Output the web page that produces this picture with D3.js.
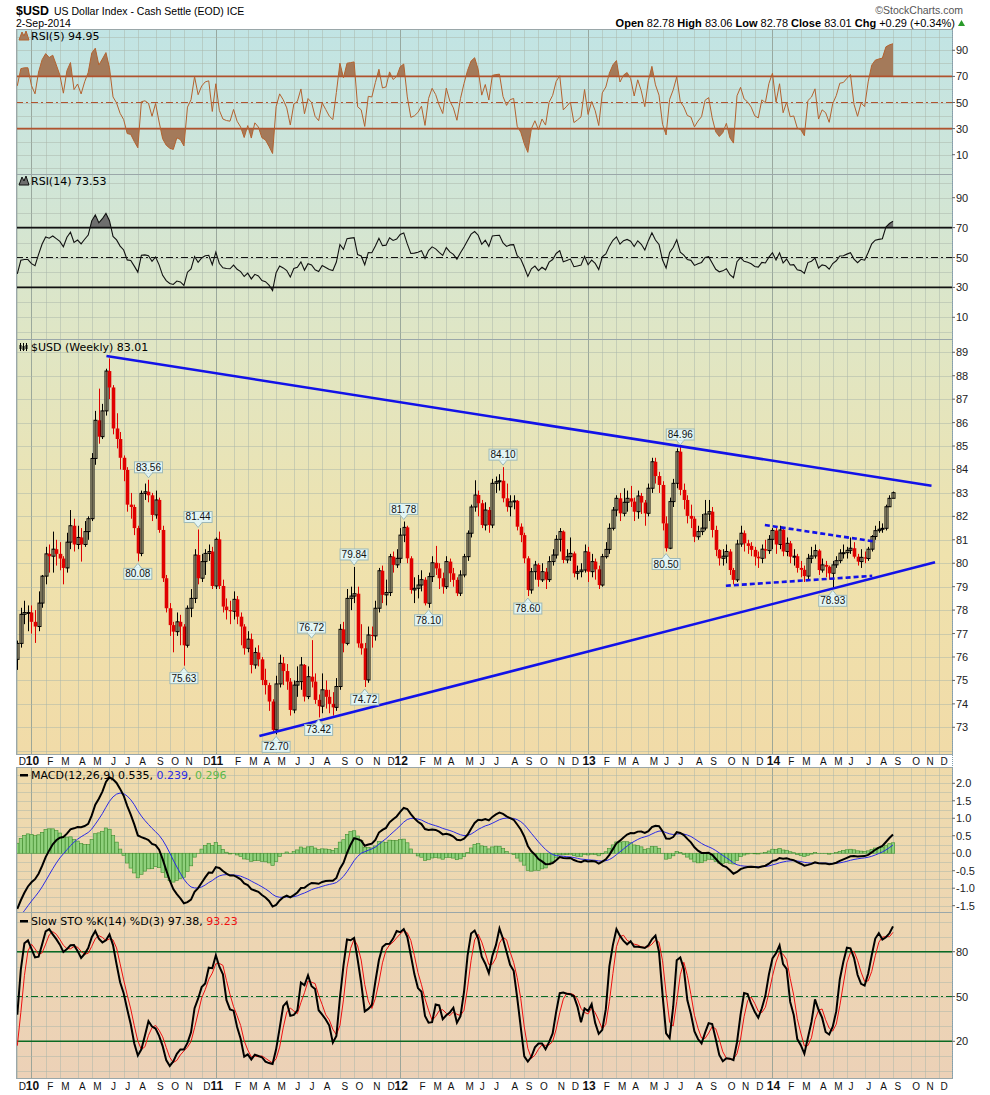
<!DOCTYPE html>
<html>
<head>
<meta charset="utf-8">
<script src="https://cdn.jsdelivr.net/npm/d3@7"></script>
<style>
  body { margin: 0; background: #fff; }
  svg text { font-family: "Liberation Sans", Arial, sans-serif; }
  .ttl { font-family: "DejaVu Sans", sans-serif; font-size: 11px; }
</style>
</head>
<body>
<svg id="chart" width="990" height="1095"></svg>
<script>
// weekly closes before the visible window, only used to warm up the indicators
const priorCloses = [85.3, 85.6, 85.7, 84.5, 84.0, 82.6, 82.9, 80.6, 79.3, 80.6, 80.3, 80.2, 80.0,
  80.2, 80.3, 79.5, 78.9, 78.4, 78.9, 78.8, 78.3, 78.4, 77.9, 76.7, 76.5, 77.0, 77.0, 76.3, 75.6,
  75.5, 76.2, 75.7, 75.4, 75.5, 74.9, 75.9];

// $USD weekly, week of 7-Dec-2009 .. week of 1-Sep-2014
const closes = [
  76.58, 77.82, 77.90, 77.90, 77.50, 77.30, 78.30, 79.45, 80.40, 80.30,
  80.60, 80.40, 80.20, 79.80, 80.90, 81.60, 80.80, 81.10, 80.80, 81.35,
  81.90, 84.47, 86.10, 85.40, 86.50, 88.20, 87.50, 85.75, 85.30, 84.50,
  83.98, 82.50, 82.40, 81.50, 80.42, 82.98, 83.05, 82.90, 82.06, 82.70,
  81.42, 79.36, 78.08, 77.36, 77.08, 77.50, 77.30, 76.50, 78.08, 78.50,
  80.35, 79.36, 80.07, 80.42, 80.50, 79.03, 81.02, 79.03, 78.15, 78.00,
  77.95, 78.46, 77.72, 77.30, 76.37, 76.76, 75.66, 76.19, 75.90, 75.02,
  74.80, 74.10, 72.89, 74.85, 75.73, 75.40, 74.95, 73.74, 74.80, 74.95,
  75.66, 74.31, 75.16, 74.95, 74.17, 73.90, 74.60, 74.30, 74.00, 73.85,
  74.74, 77.18, 76.58, 78.50, 78.60, 78.70, 76.58, 76.37, 75.02, 76.94,
  76.90, 78.08, 79.68, 78.65, 78.75, 80.28, 79.93, 80.21, 81.20, 81.53,
  80.21, 78.86, 78.93, 79.07, 79.30, 78.29, 79.43, 80.02, 79.78, 79.36,
  79.00, 80.07, 79.57, 79.29, 78.72, 79.50, 80.28, 81.28, 82.40, 82.91,
  82.56, 81.63, 82.27, 81.63, 83.41, 83.48, 83.52, 82.77, 82.41, 82.62,
  82.66, 81.56, 81.20, 80.21, 78.86, 79.64, 79.93, 79.29, 79.64, 79.30,
  80.07, 80.35, 81.02, 81.35, 80.14, 80.28, 80.42, 79.57, 79.64, 79.71,
  80.49, 79.64, 80.07, 79.74, 79.07, 80.28, 80.59, 81.49, 82.27, 82.77,
  82.13, 82.60, 82.77, 82.63, 82.20, 82.87, 82.59, 82.13, 83.20, 84.33,
  83.72, 83.34, 81.70, 80.64, 82.63, 83.41, 84.76, 83.13, 82.70, 82.02,
  81.90, 81.13, 81.35, 81.50, 82.10, 82.20, 81.42, 80.57, 80.21, 80.30,
  80.50, 79.71, 79.29, 80.82, 81.28, 80.85, 80.74, 80.57, 80.28, 80.21,
  80.60, 80.54, 81.02, 81.40, 80.80, 81.42, 80.50, 80.85, 80.28, 80.30,
  79.80, 79.72, 79.45, 80.21, 80.31, 80.54, 79.71, 79.93, 79.85, 79.57,
  79.93, 80.11, 80.43, 80.45, 80.55, 80.64, 80.28, 80.07, 80.25, 80.20,
  80.60, 81.14, 81.39, 81.45, 81.49, 82.41, 82.77, 83.01];

const highs = [
  76.70, 78.10, 78.40, 78.20, 78.20, 78.00, 78.80, 79.50, 80.70, 80.80,
  81.35, 81.00, 80.90, 80.30, 81.30, 82.27, 81.90, 81.60, 81.50, 81.80,
  82.00, 84.70, 86.50, 87.45, 86.80, 88.30, 88.74, 87.60, 86.40, 85.60,
  84.60, 84.10, 83.00, 82.50, 81.60, 83.10, 83.40, 83.56, 83.00, 83.10,
  82.80, 81.60, 79.50, 78.30, 77.50, 77.90, 77.80, 77.40, 78.20, 78.90,
  80.60, 81.44, 80.40, 80.60, 80.80, 80.70, 81.10, 81.35, 79.30, 78.50,
  78.40, 78.80, 78.60, 77.90, 77.40, 77.10, 77.00, 76.40, 76.50, 76.00,
  75.50, 74.90, 74.20, 75.20, 76.10, 76.00, 75.70, 75.10, 75.00, 75.60,
  76.00, 75.70, 75.60, 76.72, 75.30, 74.40, 75.30, 75.00, 74.60, 74.50,
  75.10, 77.40, 77.50, 78.90, 79.00, 79.84, 79.00, 77.40, 76.60, 77.30,
  77.30, 78.40, 79.80, 79.90, 79.30, 80.40, 80.50, 80.60, 81.50, 81.78,
  81.60, 80.30, 79.40, 79.50, 79.70, 79.40, 79.60, 80.30, 80.74, 80.00,
  79.60, 80.30, 80.20, 79.80, 79.40, 79.70, 80.40, 81.40, 82.50, 83.54,
  83.10, 82.70, 82.60, 82.40, 83.60, 83.70, 83.80, 84.10, 83.40, 82.90,
  82.90, 82.70, 81.70, 81.30, 80.30, 79.80, 80.10, 80.00, 80.00, 79.80,
  80.30, 80.60, 81.20, 81.50, 81.40, 80.60, 81.10, 80.50, 79.90, 80.00,
  80.80, 80.70, 80.40, 80.20, 79.90, 80.40, 80.90, 81.70, 82.40, 82.90,
  83.00, 83.20, 83.10, 83.30, 82.80, 83.10, 83.00, 82.70, 83.40, 84.50,
  84.50, 83.90, 83.50, 82.00, 82.80, 83.60, 84.90, 84.96, 83.40, 82.90,
  82.50, 82.00, 81.60, 82.10, 82.70, 82.70, 82.40, 81.60, 80.60, 80.60,
  80.80, 80.60, 79.80, 81.00, 81.60, 81.40, 81.00, 80.90, 80.70, 80.50,
  80.80, 81.00, 81.20, 81.50, 81.50, 81.60, 81.50, 81.10, 80.95, 80.60,
  80.40, 80.10, 79.90, 80.40, 80.70, 80.80, 80.60, 80.20, 80.10, 79.90,
  80.10, 80.30, 80.60, 80.80, 80.70, 81.10, 80.90, 80.40, 80.60, 80.50,
  80.70, 81.20, 81.60, 81.80, 81.70, 82.50, 82.90, 83.06];

const lows = [
  75.45, 76.40, 77.40, 77.10, 77.00, 76.60, 77.10, 78.10, 79.10, 79.60,
  79.60, 79.90, 79.70, 79.10, 79.60, 80.60, 80.50, 80.60, 80.07, 80.70,
  81.00, 81.80, 84.20, 85.10, 85.30, 86.30, 87.00, 85.50, 84.90, 84.00,
  83.50, 82.20, 81.90, 81.20, 80.08, 80.30, 82.70, 82.60, 81.80, 81.90,
  81.30, 79.20, 77.90, 76.90, 76.20, 76.90, 76.50, 75.63, 76.40, 77.70,
  78.30, 79.10, 79.20, 79.50, 80.10, 78.90, 78.90, 78.90, 77.90, 77.60,
  77.40, 77.60, 77.40, 76.50, 76.10, 76.20, 75.30, 75.50, 75.60, 74.80,
  74.40, 73.70, 72.80, 72.70, 74.70, 74.80, 74.60, 73.50, 73.60, 74.30,
  74.60, 74.10, 74.20, 74.70, 74.00, 73.42, 73.60, 73.80, 73.60, 73.50,
  73.70, 74.60, 76.20, 76.50, 78.00, 78.30, 76.40, 76.10, 74.72, 74.90,
  76.40, 76.70, 77.90, 78.30, 78.20, 78.60, 79.60, 79.80, 80.00, 80.90,
  80.00, 78.70, 78.30, 78.50, 78.80, 78.20, 78.10, 79.20, 79.50, 78.90,
  78.70, 78.90, 79.20, 79.00, 78.60, 78.60, 79.40, 80.10, 81.10, 82.20,
  82.00, 81.50, 81.40, 81.30, 81.50, 83.00, 83.10, 82.60, 82.20, 82.00,
  82.30, 81.40, 80.90, 80.00, 78.60, 78.70, 79.30, 79.00, 79.20, 78.90,
  79.20, 79.90, 80.20, 80.50, 80.00, 80.00, 80.10, 79.40, 79.30, 79.40,
  79.60, 79.20, 79.40, 79.30, 78.90, 79.00, 80.20, 80.40, 81.40, 82.00,
  81.80, 82.00, 82.20, 82.40, 81.80, 81.90, 82.10, 81.60, 82.00, 83.00,
  83.40, 83.00, 81.40, 80.50, 80.60, 82.40, 83.20, 82.90, 82.30, 81.70,
  81.50, 80.90, 81.00, 81.20, 81.40, 81.80, 81.10, 80.30, 79.90, 79.90,
  80.00, 79.50, 79.10, 79.20, 80.70, 80.50, 80.40, 80.30, 79.90, 79.80,
  80.00, 80.20, 80.40, 80.60, 80.40, 80.60, 80.30, 80.30, 80.00, 79.90,
  79.60, 79.40, 79.20, 79.30, 80.00, 80.20, 79.50, 79.60, 79.40, 79.30,
  78.93, 79.80, 80.00, 80.20, 80.20, 80.40, 80.20, 79.90, 79.80, 80.00,
  80.10, 80.50, 81.00, 81.30, 81.30, 81.40, 82.40, 82.78];

// price labels StockCharts put on the swing points
const noteBars   = [37, 34, 51, 47, 73, 83, 85, 95, 98, 109, 116, 137, 144, 187, 183, 230];
const noteValues = [83.56, 80.08, 81.44, 75.63, 72.70, 76.72, 73.42, 79.84, 74.72, 81.78, 78.10, 84.10, 78.60, 84.96, 80.50, 78.93];
const noteSides  = ['hi', 'lo', 'hi', 'lo', 'lo', 'hi', 'lo', 'hi', 'lo', 'hi', 'lo', 'hi', 'lo', 'hi', 'lo', 'lo'];

// hand drawn trend lines
const trendStart  = ['2010-06-01', '2011-03-30', '2013-12-22', '2013-10-06'];
const trendEnd    = ['2014-11-16', '2014-11-23', '2014-07-29', '2014-07-22'];
const trendFrom   = [88.84, 72.63, 81.63, 79.04];
const trendTo     = [83.31, 80.04, 80.92, 79.46];
const trendDashed = [false, false, true, true];

const monthLetters = ['J', 'F', 'M', 'A', 'M', 'J', 'J', 'A', 'S', 'O', 'N', 'D'];
const rsiTicks = [90, 70, 50, 30, 10];
const priceTicks = d3.range(73, 90);
const macdTicks = [2.0, 1.5, 1.0, 0.5, 0.0, -0.5, -1.0, -1.5];
const stoTicks = [80, 50, 20];

// ---------------------------------------------------------------
const svg = d3.select('#chart');
const left = 16, right = 952;
const P = {
  rsi5:  { top: 29,  bottom: 174 },
  rsi14: { top: 174, bottom: 339 },
  price: { top: 339, bottom: 754 },
  macd:  { top: 767, bottom: 912 },
  sto:   { top: 912, bottom: 1078 }
};

const weeks = d3.timeMonday.range(new Date(2009, 11, 7), new Date(2014, 8, 2));
const x = d3.scaleTime().domain([weeks[0], weeks[weeks.length - 1]]).range([17.3, 893]);

const y5 = d3.scaleLinear().domain([10, 90]).range([154.7, 50.3]);
const y14 = d3.scaleLinear().domain([10, 90]).range([317.3, 197.7]);
const yP = d3.scaleLinear().domain([73, 89]).range([727.3, 352.3]);
const yM = d3.scaleLinear().domain([-1.5, 2.0]).range([905.7, 783.3]);
const yS = d3.scaleLinear().domain([20, 80]).range([1041.3, 951.7]);

// ---------- indicators ----------
const off = priorCloses.length;
const allC = priorCloses.concat(closes);
const allH = priorCloses.concat(highs);
const allL = priorCloses.concat(lows);

function ema(vals, n) {
  const out = vals.map(() => null);
  const s = vals.findIndex(v => v != null);
  let prev = d3.mean(vals.slice(s, s + n));
  out[s + n - 1] = prev;
  const k = 2 / (n + 1);
  for (let i = s + n; i < vals.length; i++) { prev = vals[i] * k + prev * (1 - k); out[i] = prev; }
  return out;
}
function sma(vals, n) {
  return vals.map((v, i) => {
    const w = vals.slice(Math.max(0, i - n + 1), i + 1);
    return (i < n - 1 || w.some(d => d == null)) ? null : d3.mean(w);
  });
}
function rsi(vals, n) {
  const out = vals.map(() => null);
  let g = 0, l = 0;
  for (let i = 1; i <= n; i++) { const d = vals[i] - vals[i - 1]; if (d > 0) g += d; else l -= d; }
  g /= n; l /= n;
  out[n] = 100 - 100 / (1 + g / l);
  for (let i = n + 1; i < vals.length; i++) {
    const d = vals[i] - vals[i - 1];
    g = (g * (n - 1) + Math.max(d, 0)) / n;
    l = (l * (n - 1) + Math.max(-d, 0)) / n;
    out[i] = l === 0 ? 100 : 100 - 100 / (1 + g / l);
  }
  return out;
}

const rsi5 = rsi(allC, 5).slice(off);
const rsi14 = rsi(allC, 14).slice(off);
const e12 = ema(allC, 12), e26 = ema(allC, 26);
const macdAll = allC.map((c, i) => (e12[i] == null || e26[i] == null) ? null : e12[i] - e26[i]);
const sigAll = ema(macdAll, 9);
const macd = macdAll.slice(off), signal = sigAll.slice(off);
const hist = macd.map((m, i) => m - signal[i]);
const fastK = allC.map((c, i) => {
  if (i < 13) return null;
  const hh = d3.max(allH.slice(i - 13, i + 1)), ll = d3.min(allL.slice(i - 13, i + 1));
  return (c - ll) / (hh - ll) * 100;
});
const slowKAll = sma(fastK, 3);
const slowK = slowKAll.slice(off), slowD = sma(slowKAll, 3).slice(off);

// ---------- background + panels ----------
const defs = svg.append('defs');
const grad = defs.append('linearGradient').attr('id', 'bg')
  .attr('gradientUnits', 'userSpaceOnUse').attr('x1', 0).attr('x2', 0).attr('y1', 29).attr('y2', 1078);
[[0, '#c1e4e4'], [0.14, '#cfe5d8'], [0.3, '#e0e6c4'], [0.5, '#efe2ad'], [0.69, '#f1dba8'], [0.73, '#eedaae'], [1, '#ecd1b7']]
  .forEach(s => grad.append('stop').attr('offset', s[0]).attr('stop-color', s[1]));

Object.entries(P).forEach(([k, p]) => {
  defs.append('clipPath').attr('id', 'clip-' + k).append('rect')
    .attr('x', left).attr('y', p.top).attr('width', right - left).attr('height', p.bottom - p.top);
  svg.append('rect').attr('x', left).attr('y', p.top).attr('width', right - left)
    .attr('height', p.bottom - p.top).attr('fill', 'url(#bg)');
});

// month grid
const monthStarts = d3.timeMonth.range(new Date(2009, 11, 1), new Date(2015, 0, 1))
  .map(m => ({ m: m, d: d3.timeMonday.ceil(m) }));
const grid = svg.append('g').attr('shape-rendering', 'crispEdges');
Object.values(P).forEach(p => {
  monthStarts.forEach(ms => {
    const yr = ms.m.getMonth() === 0;
    grid.append('line').attr('x1', Math.round(x(ms.d)) + 0.5).attr('x2', Math.round(x(ms.d)) + 0.5)
      .attr('y1', p.top).attr('y2', p.bottom)
      .attr('stroke', yr ? '#8f9e94' : '#a9b5aa').attr('stroke-opacity', yr ? 0.85 : 0.5);
  });
});
function hGrid(scale, values, p) {
  values.forEach(v => {
    const yy = Math.round(scale(v)) + 0.5;
    if (yy <= p.top || yy >= p.bottom) return;
    grid.append('line').attr('x1', left).attr('x2', right).attr('y1', yy).attr('y2', yy)
      .attr('stroke', '#a9b5aa').attr('stroke-opacity', 0.5);
  });
}
hGrid(y5, d3.range(0, 110, 10), P.rsi5);
hGrid(y14, d3.range(0, 110, 10), P.rsi14);
hGrid(yP, d3.range(71, 90), P.price);
hGrid(yM, d3.range(-1.75, 2.6, 0.25), P.macd);
hGrid(yS, d3.range(0, 110, 10), P.sto);

// ---------- helpers ----------
const line = (scale, vals) => d3.line().defined((d, i) => vals[i] != null)
  .x((d, i) => x(weeks[i])).y((d, i) => scale(vals[i]))(vals);
const area = (scale, vals, base) => d3.area().defined((d, i) => vals[i] != null)
  .x((d, i) => x(weeks[i])).y0(scale(base)).y1((d, i) => scale(vals[i]))(vals);

function refLine(g, scale, v, color, dash, w) {
  g.append('line').attr('x1', left).attr('x2', right).attr('y1', scale(v)).attr('y2', scale(v))
    .attr('stroke', color).attr('stroke-width', w).attr('stroke-dasharray', dash);
}
function rightLabels(scale, vals, fmt) {
  vals.forEach(v => {
    svg.append('line').attr('x1', right).attr('x2', right + 3).attr('y1', scale(v)).attr('y2', scale(v))
      .attr('stroke', '#666');
    svg.append('text').attr('x', right + 4).attr('y', scale(v) + 4).attr('font-size', 11)
      .attr('fill', '#222').text(fmt(v));
  });
}

// ---------- RSI panels ----------
function rsiPanel(key, scale, vals, lineColor, fillColor, refColor, lw) {
  const p = P[key];
  const g = svg.append('g').attr('clip-path', `url(#clip-${key})`);
  defs.append('clipPath').attr('id', key + '-hi').append('rect')
    .attr('x', left).attr('y', p.top).attr('width', right - left).attr('height', scale(70) - p.top);
  defs.append('clipPath').attr('id', key + '-lo').append('rect')
    .attr('x', left).attr('y', scale(30)).attr('width', right - left).attr('height', p.bottom - scale(30));
  g.append('path').attr('d', area(scale, vals, 70)).attr('fill', fillColor).attr('clip-path', `url(#${key}-hi)`);
  g.append('path').attr('d', area(scale, vals, 30)).attr('fill', fillColor).attr('clip-path', `url(#${key}-lo)`);
  refLine(g, scale, 70, refColor, null, 1.6);
  refLine(g, scale, 30, refColor, null, 1.6);
  refLine(g, scale, 50, refColor, '7,3,2,3', 1.2);
  g.append('path').attr('d', line(scale, vals)).attr('fill', 'none')
    .attr('stroke', lineColor).attr('stroke-width', lw);
}
rsiPanel('rsi5', y5, rsi5, '#b4622f', '#a47a5a', '#b0532e', 1);
rsiPanel('rsi14', y14, rsi14, '#111', '#6e6e6e', '#111', 1.1);

// ---------- price ----------
const gp = svg.append('g').attr('clip-path', 'url(#clip-price)');
closes.forEach((c, i) => {
  const o = i === 0 ? priorCloses[priorCloses.length - 1] : closes[i - 1];
  const up = c >= o;
  const col = up ? '#000' : '#e00000';
  const cx = Math.round(x(weeks[i])) + 0.5;
  gp.append('line').attr('x1', cx).attr('x2', cx).attr('y1', yP(highs[i])).attr('y2', yP(lows[i]))
    .attr('stroke', col).attr('stroke-width', 1);
  const top = yP(Math.max(o, c)), h = Math.max(1, Math.abs(yP(o) - yP(c)));
  if (up) {
    gp.append('rect').attr('x', cx - 1.5).attr('y', top).attr('width', 3).attr('height', h)
      .attr('fill', '#efe4b6').attr('fill-opacity', 0.35).attr('stroke', '#000').attr('stroke-width', 1);
  } else {
    gp.append('rect').attr('x', cx - 1.8).attr('y', top).attr('width', 3.6).attr('height', h)
      .attr('fill', '#e00000');
  }
});

// trend lines
trendStart.forEach((s, i) => {
  gp.append('line')
    .attr('x1', x(new Date(s + 'T00:00'))).attr('y1', yP(trendFrom[i]))
    .attr('x2', x(new Date(trendEnd[i] + 'T00:00'))).attr('y2', yP(trendTo[i]))
    .attr('stroke', '#1212e8').attr('stroke-width', 2.6)
    .attr('stroke-dasharray', trendDashed[i] ? '5,3' : null);
});

// swing labels
noteBars.forEach((b, i) => {
  const cx = x(weeks[b]);
  const hi = noteSides[i] === 'hi';
  const py = yP(noteValues[i]) + (hi ? -2 : 2);
  const bw = 28, bh = 11;
  const by = hi ? py - 5 - bh : py + 5;
  const g = svg.append('g');
  const tip = hi
    ? `M${cx - 4},${by + bh} L${cx},${py} L${cx + 4},${by + bh}`
    : `M${cx - 4},${by} L${cx},${py} L${cx + 4},${by}`;
  g.append('rect').attr('x', cx - bw / 2).attr('y', by).attr('width', bw).attr('height', bh)
    .attr('fill', '#e3f5f4').attr('stroke', '#9db9b8').attr('stroke-width', 1);
  g.append('path').attr('d', tip + 'Z').attr('fill', '#e3f5f4').attr('stroke', '#9db9b8');
  g.append('rect').attr('x', cx - 3.5).attr('y', hi ? by + bh - 1.5 : by - 0.5).attr('width', 7).attr('height', 2)
    .attr('fill', '#e3f5f4');
  g.append('text').attr('x', cx).attr('y', by + 9).attr('text-anchor', 'middle')
    .attr('font-size', 10).attr('fill', '#111').text(noteValues[i].toFixed(2));
});

// ---------- MACD ----------
const gm = svg.append('g').attr('clip-path', 'url(#clip-macd)');
hist.forEach((h, i) => {
  if (h == null) return;
  const cx = x(weeks[i]);
  gm.append('rect').attr('x', cx - 1.7).attr('width', 3.4)
    .attr('y', Math.min(yM(0), yM(h))).attr('height', Math.abs(yM(h) - yM(0)))
    .attr('fill', '#8fd07c').attr('stroke', '#3e8d2e').attr('stroke-width', 0.6);
});
gm.append('path').attr('d', line(yM, signal)).attr('fill', 'none').attr('stroke', '#2a2ae6').attr('stroke-width', 1);
gm.append('path').attr('d', line(yM, macd)).attr('fill', 'none').attr('stroke', '#000').attr('stroke-width', 2);

// ---------- Slow STO ----------
const gs = svg.append('g').attr('clip-path', 'url(#clip-sto)');
refLine(gs, yS, 80, '#0b6a22', null, 1.6);
refLine(gs, yS, 20, '#0b6a22', null, 1.6);
refLine(gs, yS, 50, '#0b6a22', '7,3,2,3', 1.2);
gs.append('path').attr('d', line(yS, slowD)).attr('fill', 'none').attr('stroke', '#ee1111').attr('stroke-width', 1);
gs.append('path').attr('d', line(yS, slowK)).attr('fill', 'none').attr('stroke', '#000').attr('stroke-width', 2);

// ---------- borders ----------
Object.values(P).forEach(p => {
  svg.append('rect').attr('x', left + 0.5).attr('y', p.top + 0.5).attr('width', right - left)
    .attr('height', p.bottom - p.top).attr('fill', 'none').attr('stroke', '#9aa7a9').attr('shape-rendering', 'crispEdges');
});
svg.append('line').attr('x1', right + 0.5).attr('x2', right + 0.5).attr('y1', P.rsi5.top).attr('y2', P.sto.bottom)
  .attr('stroke', '#7f9fb0').attr('stroke-dasharray', '1,1');

// ---------- axes ----------
rightLabels(y5, rsiTicks, d => d);
rightLabels(y14, rsiTicks, d => d);
rightLabels(yP, priceTicks, d => d);
rightLabels(yM, macdTicks, d => d3.format('.1f')(d).replace('−', '-'));
rightLabels(yS, stoTicks, d => d);

function monthAxis(yBase) {
  monthStarts.forEach(ms => {
    const mx = x(ms.d);
    const yr = ms.m.getMonth() === 0;
    svg.append('text').attr('x', yr ? mx + 1 : mx + 1.5).attr('y', yBase)
      .attr('text-anchor', yr ? 'middle' : 'start')
      .attr('font-size', yr ? 12 : 10).attr('font-weight', yr ? 'bold' : 'normal').attr('fill', '#111')
      .text(yr ? String(ms.m.getFullYear()).slice(2) : monthLetters[ms.m.getMonth()]);
  });
}
monthAxis(765);
monthAxis(1090);

// ---------- titles ----------
function dashIcon(yy) {
  svg.append('rect').attr('x', 20).attr('y', yy - 4).attr('width', 8).attr('height', 2.5).attr('fill', '#000');
}
svg.append('path').attr('d', 'M19,40 L22,32 L24,36 L26,31 L29,40 Z').attr('fill', '#a47a5a').attr('stroke', '#b4622f');
svg.append('text').attr('class', 'ttl').attr('x', 31).attr('y', 40).text('RSI(5) 94.95');
svg.append('path').attr('d', 'M19,185 L22,177 L24,181 L26,176 L29,185 Z').attr('fill', '#6e6e6e').attr('stroke', '#111');
svg.append('text').attr('class', 'ttl').attr('x', 31).attr('y', 185).text('RSI(14) 73.53');
[20, 23, 26].forEach((bx, k) => {
  svg.append('line').attr('x1', bx + 0.5).attr('x2', bx + 0.5).attr('y1', 343).attr('y2', 351).attr('stroke', '#000');
  svg.append('rect').attr('x', bx - 0.5).attr('y', 345 + k % 2).attr('width', 2).attr('height', 4).attr('fill', '#000');
});
svg.append('text').attr('class', 'ttl').attr('x', 31).attr('y', 351).text('$USD (Weekly) 83.01');
dashIcon(778);
svg.append('text').attr('class', 'ttl').attr('x', 31).attr('y', 779)
  .call(t => {
    t.append('tspan').text('MACD(12,26,9) 0.535, ');
    t.append('tspan').attr('fill', '#2a2ae6').text('0.239');
    t.append('tspan').text(', ');
    t.append('tspan').attr('fill', '#5cb84a').text('0.296');
  });
dashIcon(924);
svg.append('text').attr('class', 'ttl').attr('x', 31).attr('y', 925)
  .call(t => {
    t.append('tspan').text('Slow STO %K(14) %D(3) 97.38, ');
    t.append('tspan').attr('fill', '#ee1111').text('93.23');
  });

// ---------- header ----------
svg.append('text').attr('x', 16).attr('y', 15).attr('font-size', 13).attr('font-weight', 'bold')
  .attr('textLength', 33).attr('lengthAdjust', 'spacingAndGlyphs').text('$USD');
svg.append('text').attr('x', 54).attr('y', 15).attr('font-size', 10.5).text('US Dollar Index - Cash Settle (EOD)  ICE');
svg.append('text').attr('x', 16).attr('y', 27).attr('font-size', 10.5).text('2-Sep-2014');
svg.append('text').attr('x', 963).attr('y', 14).attr('text-anchor', 'end').attr('font-size', 10.5)
  .attr('fill', '#555').text('©StockCharts.com');
svg.append('text').attr('x', 955).attr('y', 27).attr('text-anchor', 'end').attr('font-size', 11)
  .call(t => {
    [['Open', '82.78'], ['High', '83.06'], ['Low', '82.78'], ['Close', '83.01'], ['Chg', '+0.29 (+0.34%)']]
      .forEach(([k, v], j) => {
        t.append('tspan').attr('font-weight', 'bold').text((j ? ' ' : '') + k + ' ');
        t.append('tspan').text(v);
      });
  });
svg.append('path').attr('d', 'M958,26 L961.5,20 L965,26 Z').attr('fill', '#2a9a2a');
</script>
</body>
</html>
